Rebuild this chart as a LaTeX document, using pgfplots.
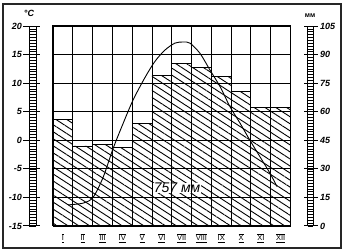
\documentclass[border=0pt]{standalone}
\usepackage{fontspec}
\setmainfont{Liberation Sans}
\usepackage{pgfplots}
\pgfplotsset{compat=1.18}
\usetikzlibrary{patterns.meta}
\begin{document}
\begin{tikzpicture}[x=1pt,y=1pt]
\useasboundingbox (0,0) rectangle (349,252);
\draw[line width=1.3pt, black!85] (3,4) rectangle (341,248);
% precipitation (mm)
\begin{axis}[at={(53pt,26pt)}, anchor=south west, scale only axis,
  width=237.5pt, height=200pt, xmin=0, xmax=12, ymin=0, ymax=105,
  hide axis, clip=false]
\addplot[ybar interval, draw=black, line width=0.9pt,
  pattern={Lines[angle=-33, distance=5.9pt, line width=0.9pt]}]
  coordinates {(0,56) (1,42) (2,43) (3,41) (4,54) (5,79) (6,85.5) (7,83.4)
               (8,78.3) (9,70.5) (10,62.4) (11,62) (12,62)};
\node[fill=white, inner sep=0.4pt, font=\itshape\fontsize{14}{14}\selectfont]
  at (axis cs:6.27,20) {757 мм};
\end{axis}
% temperature (C)
\begin{axis}[at={(53pt,26pt)}, anchor=south west, scale only axis,
  width=237.5pt, height=200pt, xmin=0, xmax=12, ymin=-15, ymax=20,
  xtick={0,...,12}, ytick={-15,-10,...,20}, xticklabels={}, yticklabels={},
  major tick length=0pt, grid=major, grid style={black, line width=0.9pt},
  axis line style={line width=1pt}, axis on top, clip=false]
\addplot[smooth, tension=0.5, line width=0.9pt] coordinates {
  (0.76,-11.3) (1.52,-11.0) (2.02,-10.0) (2.53,-6.5) (3.03,-1.5) (3.49,2.5)
  (4.04,7.0) (4.65,11.0) (5.15,13.8) (5.66,15.8) (6.16,17.0) (6.57,17.2)
  (6.92,17.0) (7.43,15.2) (7.93,12.3) (8.44,9.4) (8.94,5.9) (9.45,3.0)
  (9.95,0.0) (10.46,-2.9) (10.97,-5.8) (11.32,-8.1)};
\end{axis}
% left ladder
\draw[line width=0.8pt] (29.3,26) -- (29.3,226) (36,26) -- (36,226);
\foreach \i in {0,...,70} \draw[line width=0.7pt] (29.3,26+\i*2.857) -- (36,26+\i*2.857);
\foreach \v [count=\k from 0] in {-15,-10,-5,0,5,10,15,20} {
  \draw[line width=1pt] (23,26+\k*28.571) -- (40,26+\k*28.571);
  \node[anchor=east, inner sep=0pt, font=\bfseries\itshape\fontsize{9}{9}\selectfont] at (22,26+\k*28.571) {\v};
}
\node[font=\bfseries\itshape\fontsize{9}{9}\selectfont] at (29,239) {°C};
% right ladder
\draw[line width=0.8pt] (307.7,26) -- (307.7,226) (313.3,26) -- (313.3,226);
\foreach \i in {0,...,70} \draw[line width=0.7pt] (307.7,26+\i*2.857) -- (313.3,26+\i*2.857);
\foreach \v [count=\k from 0] in {0,15,30,45,60,75,90,105} {
  \draw[line width=1pt] (304,26+\k*28.571) -- (318,26+\k*28.571);
  \node[anchor=west, inner sep=0pt, font=\bfseries\itshape\fontsize{9}{9}\selectfont] at (320,26+\k*28.571) {\v};
}
\node[font=\bfseries\fontsize{7}{7}\selectfont] at (310,236) {мм};
% month labels
\foreach \m [count=\k from 0] in {I,II,III,IV,V,VI,VII,VIII,IX,X,XI,XII} {
  \node[font=\fontsize{7.5}{7.5}\selectfont, inner sep=0pt] at (53+\k*19.79+9.9,14) {$\underline{\overline{\hbox{\m}}}$};
}
\end{tikzpicture}
\end{document}
